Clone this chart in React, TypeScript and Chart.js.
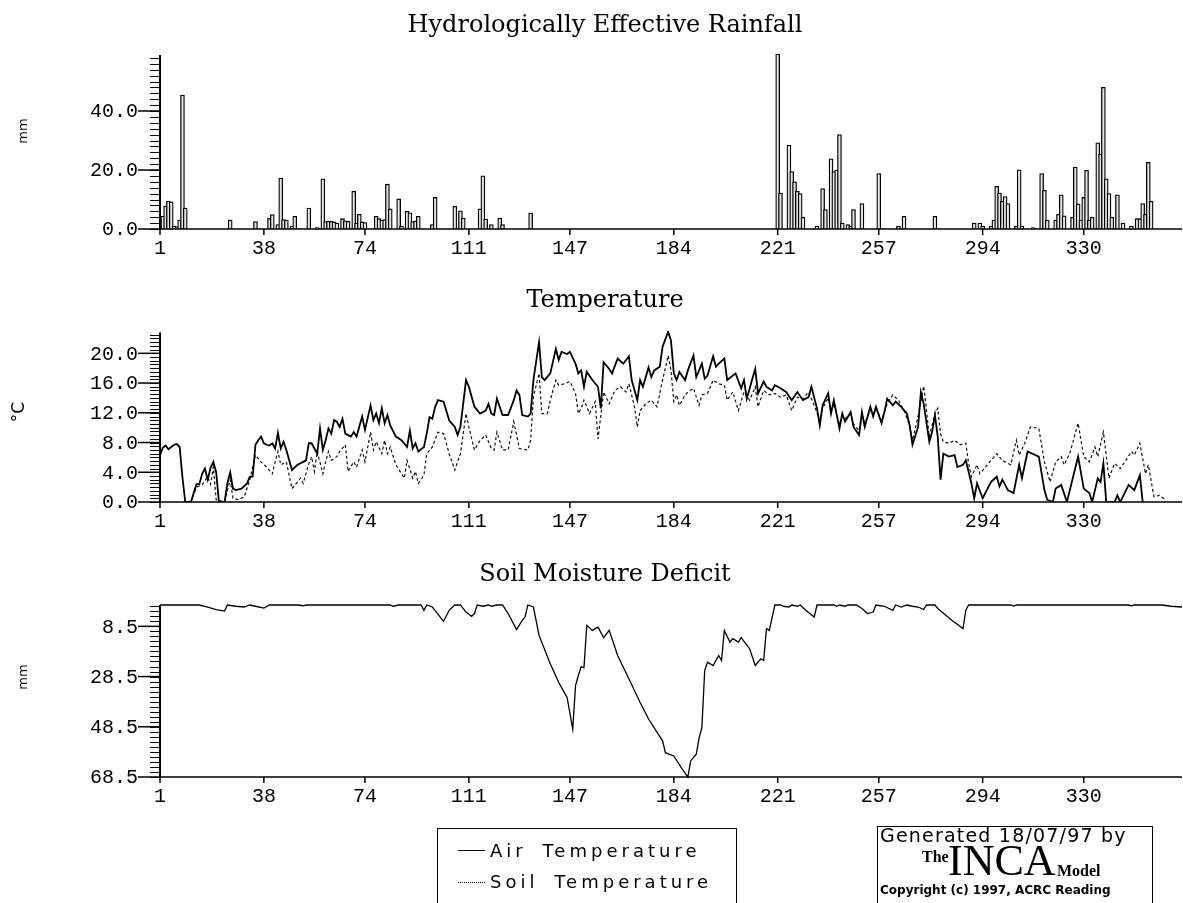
import React, { useEffect, useRef } from "react";
import { Chart, registerables } from "chart.js";

Chart.register(...registerables);

const PAGE_W = 1183;
const PAGE_H = 903;

// ---- tick labels ----
const xTickDays = [1, 38, 74, 111, 147, 184, 221, 257, 294, 330];
const rainTickValues = [0, 20, 40];
const tempTickValues = [0, 4, 8, 12, 16, 20];
const smdTickValues = [8.5, 28.5, 48.5, 68.5];

// ---- titles ----
const rainTitle = "Hydrologically Effective Rainfall";
const tempTitle = "Temperature";
const smdTitle = "Soil Moisture Deficit";

// ---- hydrologically effective rainfall [day, mm] ----
const rainfall: [number, number][] = [
  [2, 4.4], [3, 7.8], [4, 9.5], [5, 9.2], [6, 1.0], [7, 0.8], [8, 3.0], [9, 45.4], [10, 7.1],
  [26, 3.0], [35, 2.5], [40, 3.6], [41, 4.9], [43, 1.5], [44, 17.3], [45, 3.2], [46, 3.0],
  [48, 1.0], [49, 4.3], [54, 7.1], [57, 0.5], [59, 17.0], [60, 2.5], [61, 2.6], [62, 2.6],
  [63, 2.4], [64, 2.0], [66, 3.5], [67, 2.8], [68, 2.6], [70, 12.8], [71, 2.0], [72, 5.0],
  [73, 2.4], [74, 2.2], [78, 4.3], [79, 3.5], [80, 3.0], [81, 3.2], [82, 15.2], [83, 6.8],
  [86, 10.2], [87, 1.0], [89, 6.0], [90, 5.5], [91, 2.5], [92, 2.8], [93, 4.3], [98, 1.5],
  [99, 10.7], [106, 7.7], [108, 6.2], [109, 3.7], [115, 6.8], [116, 18.0], [117, 3.4],
  [119, 1.5], [122, 3.7], [123, 1.5], [133, 5.4],
  [221, 59.3], [222, 12.2], [225, 28.4], [226, 19.5], [227, 16.0], [228, 12.8], [229, 12.0],
  [230, 4.0], [235, 1.0], [237, 13.7], [238, 6.6], [240, 23.8], [241, 19.5], [242, 20.0],
  [243, 32.0], [244, 2.0], [246, 1.5], [247, 1.0], [248, 6.6], [251, 8.6], [257, 18.8],
  [264, 1.0], [266, 4.3], [277, 4.3], [291, 2.0], [293, 2.0], [294, 1.0], [297, 1.0],
  [298, 3.0], [299, 14.5], [300, 12.2], [301, 9.4], [302, 11.0], [303, 8.6], [306, 1.0],
  [307, 20.1], [308, 1.0], [312, 0.5], [315, 18.8], [316, 13.1], [317, 3.0], [320, 3.0],
  [321, 5.0], [322, 11.6], [323, 4.5], [326, 4.0], [327, 21.0], [328, 8.5], [329, 3.0],
  [330, 10.7], [331, 19.9], [332, 3.0], [333, 4.0], [335, 29.2], [336, 25.4], [337, 48.0],
  [338, 17.0], [339, 12.0], [340, 4.0], [342, 11.6], [344, 2.0], [347, 1.0], [349, 3.5],
  [350, 3.5], [351, 8.6], [352, 5.0], [353, 22.6], [354, 9.4],
];

// ---- air temperature [day, degC] ----
const airTemperature: [number, number][] = [
  [1, 6.3], [2, 7.3], [3, 7.6], [4, 7.1], [5, 7.4], [6, 7.7], [7, 7.8], [8, 7.4], [9, 3.3],
  [10, 0], [12, 0], [13, 1.2], [14, 2.4], [15, 2.4], [16, 3.8], [17, 4.5], [18, 3.0],
  [19, 4.6], [20, 5.4], [21, 4.0], [22, 0], [24, 0], [25, 2.5], [26, 4.0], [27, 1.8],
  [28, 1.6], [30, 1.8], [32, 2.5], [33, 3.4], [34, 3.4], [35, 7.7], [36, 8.3], [37, 8.8],
  [38, 7.9], [39, 7.7], [40, 7.6], [41, 7.9], [42, 7.2], [43, 9.3], [44, 7.2], [45, 8.1],
  [46, 7.0], [48, 4.3], [50, 5.0], [52, 5.4], [53, 5.6], [54, 7.9], [55, 7.9], [56, 7.2],
  [57, 6.5], [58, 9.9], [59, 7.0], [60, 8.3], [61, 9.9], [62, 9.2], [63, 11.0], [64, 10.8],
  [65, 10.1], [66, 11.2], [67, 9.2], [69, 8.8], [70, 9.4], [71, 8.8], [73, 11.5], [74, 9.7],
  [76, 13.0], [77, 11.0], [78, 11.9], [79, 10.6], [80, 12.6], [81, 10.6], [82, 11.7],
  [83, 10.3], [85, 8.8], [87, 8.3], [89, 7.4], [90, 9.6], [91, 7.2], [92, 7.9], [93, 6.8],
  [95, 7.4], [96, 9.2], [97, 11.4], [98, 11.2], [99, 12.8], [100, 13.7], [102, 13.5],
  [104, 11.0], [106, 10.1], [107, 9.0], [108, 10.1], [110, 16.4], [111, 15.5], [113, 12.8],
  [115, 11.9], [117, 12.3], [118, 13.2], [119, 11.9], [120, 11.7], [121, 13.9], [123, 11.7],
  [125, 11.7], [127, 13.7], [128, 15.0], [129, 14.4], [130, 11.7], [132, 11.5], [133, 11.9],
  [134, 16.4], [136, 21.5], [137, 16.8], [138, 16.4], [140, 17.3], [142, 20.6], [143, 19.1],
  [144, 20.2], [146, 19.9], [147, 20.2], [149, 18.6], [150, 17.3], [151, 17.7], [152, 15.5],
  [153, 17.5], [155, 16.4], [157, 15.5], [158, 12.6], [159, 18.8], [161, 17.9], [162, 17.3],
  [164, 19.3], [166, 18.6], [168, 19.6], [169, 16.4], [171, 13.7], [172, 16.4], [173, 15.5],
  [175, 18.1], [176, 16.8], [177, 17.7], [179, 18.2], [180, 20.9], [182, 22.9], [183, 21.7],
  [184, 17.3], [185, 16.4], [186, 17.5], [188, 16.4], [189, 17.7], [191, 19.7], [192, 16.8],
  [194, 18.6], [195, 16.6], [196, 17.0], [198, 19.6], [199, 18.2], [200, 18.6], [202, 19.3],
  [203, 16.4], [205, 17.0], [206, 17.3], [208, 15.3], [209, 16.4], [210, 13.9], [212, 16.6],
  [213, 17.9], [214, 14.6], [216, 16.2], [217, 15.5], [219, 15.0], [220, 15.7], [222, 15.3],
  [224, 14.8], [226, 13.7], [228, 14.8], [230, 13.7], [232, 14.1], [233, 15.5], [235, 12.6],
  [236, 10.3], [237, 13.0], [239, 14.6], [240, 11.9], [241, 13.7], [243, 9.9], [244, 11.9],
  [245, 10.8], [247, 12.1], [248, 10.1], [250, 9.0], [251, 12.1], [252, 10.1], [254, 12.8],
  [255, 11.5], [256, 12.8], [258, 10.6], [259, 12.1], [260, 13.9], [262, 13.0], [263, 13.5],
  [265, 12.8], [267, 11.9], [268, 10.3], [269, 7.7], [271, 10.1], [272, 14.8], [273, 13.2],
  [275, 8.1], [276, 9.4], [277, 11.7], [278, 8.8], [279, 3.0], [280, 6.5], [282, 6.1],
  [284, 6.3], [285, 4.7], [287, 5.0], [288, 5.6], [290, 2.5], [291, 0.5], [292, 2.5],
  [294, 0.5], [297, 2.7], [299, 3.4], [300, 2.1], [301, 3.0], [303, 1.6], [305, 1.2],
  [307, 5.0], [308, 3.2], [310, 6.8], [314, 6.1], [316, 1.6], [317, 0.3], [319, 0],
  [320, 1.8], [322, 2.3], [324, 0], [328, 6.1], [330, 1.8], [332, 1.2], [333, 0], [335, 3.2],
  [336, 2.7], [337, 5.2], [338, 0], [341, 0], [342, 0.9], [343, 0], [346, 2.3], [348, 1.6],
  [350, 3.6], [351, 0],
];

// ---- soil temperature [day, degC] ----
const soilTemperature: [number, number][] = [
  [12, 0], [14, 2.0], [16, 2.3], [18, 3.4], [19, 2.4], [20, 4.7], [21, 0.3], [24, 0],
  [26, 3.0], [27, 0.5], [29, 0.3], [31, 0.7], [33, 3.0], [35, 6.3], [37, 5.4], [38, 5.0],
  [39, 4.7], [41, 3.8], [42, 5.4], [43, 6.8], [44, 5.0], [46, 5.4], [47, 3.6], [48, 1.8],
  [50, 2.7], [51, 3.2], [52, 2.5], [54, 5.2], [55, 6.1], [56, 4.1], [57, 6.8], [59, 3.8],
  [60, 5.4], [61, 6.8], [62, 5.6], [64, 6.1], [65, 6.8], [67, 7.7], [68, 4.1], [70, 5.4],
  [71, 4.7], [73, 7.0], [74, 5.4], [76, 9.4], [77, 7.0], [78, 8.1], [80, 6.5], [81, 8.3],
  [82, 6.5], [83, 7.4], [85, 5.0], [87, 3.8], [88, 3.2], [89, 5.6], [91, 3.2], [92, 4.1],
  [93, 2.5], [95, 3.6], [96, 6.5], [98, 7.4], [100, 9.4], [102, 9.2], [104, 6.5], [106, 4.3],
  [108, 6.5], [110, 11.9], [111, 10.1], [113, 7.0], [115, 8.3], [117, 9.0], [119, 7.2],
  [120, 7.0], [121, 9.4], [123, 7.0], [125, 7.0], [127, 10.8], [129, 7.2], [132, 7.0],
  [133, 8.3], [134, 14.1], [136, 17.3], [137, 11.9], [139, 11.9], [140, 13.7], [142, 16.4],
  [143, 15.7], [145, 15.9], [147, 16.2], [149, 14.6], [150, 11.9], [151, 12.6], [152, 13.7],
  [154, 11.9], [156, 13.5], [157, 8.5], [159, 14.8], [161, 13.2], [163, 15.0], [165, 15.5],
  [167, 14.8], [168, 15.9], [170, 12.8], [171, 10.1], [172, 12.3], [174, 13.2], [176, 13.7],
  [178, 12.8], [180, 16.4], [182, 19.7], [183, 17.7], [184, 13.5], [185, 14.4], [186, 13.0],
  [188, 14.4], [189, 14.8], [191, 15.3], [193, 13.0], [194, 14.4], [196, 14.6], [198, 16.4],
  [200, 15.9], [202, 15.7], [203, 13.7], [205, 14.8], [207, 12.3], [209, 14.8], [211, 13.7],
  [213, 15.5], [214, 12.8], [216, 15.0], [218, 14.4], [220, 14.6], [222, 14.1], [224, 14.4],
  [226, 12.3], [228, 14.1], [230, 13.9], [232, 14.8], [234, 13.0], [236, 11.0], [237, 12.6],
  [239, 14.0], [240, 12.2], [241, 13.2], [243, 10.4], [244, 11.6], [245, 11.2], [247, 11.8],
  [248, 10.5], [250, 9.6], [251, 11.8], [252, 10.6], [254, 12.4], [255, 11.8], [256, 12.5],
  [258, 11.0], [260, 13.2], [262, 14.4], [264, 13.7], [266, 12.3], [268, 10.3], [269, 8.3],
  [271, 11.5], [273, 15.6], [274, 12.3], [275, 8.8], [277, 11.9], [278, 12.6], [279, 9.2],
  [280, 8.1], [282, 7.9], [284, 8.3], [286, 7.7], [288, 7.9], [289, 5.2], [290, 3.4],
  [292, 5.0], [293, 3.8], [295, 4.7], [297, 5.6], [299, 6.5], [301, 5.6], [302, 5.4],
  [304, 5.0], [306, 8.3], [307, 6.3], [309, 7.9], [311, 10.1], [314, 9.9], [316, 5.4],
  [318, 2.7], [320, 5.4], [322, 6.1], [323, 5.0], [325, 6.5], [328, 10.6], [330, 6.1],
  [332, 5.4], [334, 7.4], [335, 6.1], [337, 9.4], [339, 3.2], [341, 5.2], [343, 4.5],
  [345, 5.6], [347, 6.8], [348, 6.3], [350, 7.9], [352, 3.8], [353, 5.0], [355, 0.7],
  [357, 0.9], [359, 0.3],
];

// ---- soil moisture deficit [day, mm] ----
const soilMoistureDeficit: [number, number][] = [
  [1, 0], [15, 0], [18, 0.8], [21, 1.8], [24, 2.4], [25, 0], [28, 0.5], [31, 0.8], [33, 0],
  [35, 0.5], [38, 1.2], [40, 0], [50, 0], [52, 0.3], [53, 0], [83, 0], [84, 0.5], [86, 0],
  [94, 0], [95, 2.1], [96, 0], [98, 0.8], [102, 6.5], [104, 2.1], [106, 0], [108, 0],
  [110, 2.8], [112, 4.5], [113, 3.4], [114, 0], [116, 0.5], [118, 0], [119, 0.5], [121, 0],
  [123, 0], [125, 3.4], [128, 9.8], [130, 6.1], [131, 4.8], [132, 0], [134, 0.8], [136, 12.1],
  [140, 23.4], [143, 30.8], [146, 36.8], [148, 49.4], [149, 32.1], [150, 28.1], [151, 24.5],
  [152, 25.0], [153, 8.1], [155, 10.1], [156, 9.4], [157, 8.8], [159, 13.0], [161, 10.1],
  [164, 20.1], [168, 29.4], [172, 38.8], [175, 45.4], [180, 54.1], [181, 58.8], [184, 60.1],
  [187, 65.4], [189, 68.5], [190, 62.1], [192, 59.4], [193, 53.0], [194, 48.8], [195, 26.1],
  [196, 22.8], [198, 24.1], [200, 20.1], [201, 22.1], [202, 10.1], [204, 14.8], [205, 13.4],
  [207, 14.8], [208, 13.0], [211, 17.4], [213, 24.1], [215, 21.4], [216, 22.1], [217, 9.4],
  [218, 10.1], [220, 0], [222, 0], [223, 0.5], [225, 0.8], [226, 0], [228, 0.5], [229, 0],
  [231, 2.1], [234, 4.8], [235, 0], [241, 0], [242, 0.5], [243, 0], [245, 0.5], [246, 0],
  [249, 0], [251, 1.4], [253, 3.4], [255, 2.8], [256, 0], [259, 0.5], [262, 2.1], [263, 0],
  [265, 0.8], [267, 0], [269, 0.5], [271, 0.8], [273, 1.8], [274, 0], [277, 0], [278, 1.4],
  [283, 6.1], [287, 9.4], [288, 2.1], [289, 0], [304, 0], [305, 0.4], [306, 0], [346, 0],
  [347, 0.3], [348, 0], [358, 0], [361, 0.5], [365, 0.8],
];

// ---- custom axis painter (uses the chart's own scales) ----
const inkAxes = {
  id: "inkAxes",
  afterDraw(chart: any, _args: any, o: any) {
    const ctx = chart.ctx;
    const xs = chart.scales.x;
    const ys = chart.scales.y;
    const area = chart.chartArea;
    const ax = area.left;
    const base = area.bottom;
    ctx.save();
    ctx.strokeStyle = "#000";
    ctx.fillStyle = "#000";
    // y axis line
    ctx.lineWidth = 2;
    ctx.beginPath();
    ctx.moveTo(ax, ys.getPixelForValue(o.axisFrom));
    ctx.lineTo(ax, ys.getPixelForValue(o.axisTo));
    ctx.stroke();
    // x axis line
    ctx.lineWidth = 1.6;
    ctx.beginPath();
    ctx.moveTo(ax, base);
    ctx.lineTo(area.right, base);
    ctx.stroke();
    // minor ticks
    ctx.lineWidth = 1.2;
    ctx.beginPath();
    for (let i = 0; i < o.minorCount; i++) {
      const py = Math.round(ys.getPixelForValue(o.minorFrom + i * o.minorStep)) + 0.5;
      ctx.moveTo(ax - 10, py);
      ctx.lineTo(ax, py);
    }
    ctx.stroke();
    // major ticks + labels
    ctx.font = '20px "Liberation Mono"';
    ctx.textAlign = "right";
    ctx.textBaseline = "middle";
    ctx.lineWidth = 1.5;
    for (const v of o.majors) {
      const py = ys.getPixelForValue(v);
      ctx.beginPath();
      ctx.moveTo(ax - 22, py);
      ctx.lineTo(ax, py);
      ctx.stroke();
      ctx.fillText(Number(v).toFixed(1), ax - 22, py + 1);
    }
    // x ticks + labels
    ctx.textAlign = "center";
    for (const d of xTickDays) {
      const px = xs.getPixelForValue(d);
      ctx.beginPath();
      ctx.moveTo(px, base);
      ctx.lineTo(px, base + 6);
      ctx.stroke();
      ctx.fillText(String(d), px, base + 20);
    }
    // panel title
    ctx.font = '24px "DejaVu Serif"';
    ctx.textBaseline = "alphabetic";
    ctx.fillText(o.title, 605, o.titleBaseline);
    // y axis title
    ctx.translate(o.yTitleX, o.yTitleY);
    ctx.rotate(-Math.PI / 2);
    ctx.font = o.yTitleFont;
    ctx.textBaseline = "middle";
    ctx.fillText(o.yTitle, 0, 0);
    ctx.restore();
  },
};

const frame = (top: number, bottom: number) => ({
  animation: false as const,
  responsive: false,
  events: [] as any[],
  layout: { padding: { left: 160, right: PAGE_W - 1182, top, bottom: PAGE_H - bottom } },
});

const xScale = { type: "linear" as const, min: 1, max: 365, display: false, offset: false };

export default function App() {
  const rainRef = useRef<HTMLCanvasElement>(null);
  const tempRef = useRef<HTMLCanvasElement>(null);
  const smdRef = useRef<HTMLCanvasElement>(null);

  useEffect(() => {
    document.body.style.margin = "0";
    document.body.style.overflow = "hidden";
    const charts: Chart[] = [];

    charts.push(
      new Chart(rainRef.current as HTMLCanvasElement, {
        type: "bar",
        data: {
          datasets: [
            {
              data: rainfall.map(([d, v]) => ({ x: d, y: v })),
              backgroundColor: "#e4e4e4",
              borderColor: "#000000",
              borderWidth: 1.3,
              barThickness: 4,
              borderSkipped: "bottom",
              grouped: false,
            } as any,
          ],
        },
        options: {
          ...frame(52, 229),
          plugins: {
            legend: { display: false },
            tooltip: { enabled: false },
            inkAxes: {
              majors: rainTickValues, minorFrom: 0, minorStep: 2, minorCount: 30,
              axisFrom: 0, axisTo: 59, title: rainTitle, titleBaseline: 32,
              yTitle: "mm", yTitleX: 24, yTitleY: 131, yTitleFont: '13px "DejaVu Sans"',
            },
          } as any,
          scales: { x: xScale, y: { min: 0, max: 60, display: false } },
        },
        plugins: [inkAxes],
      })
    );

    charts.push(
      new Chart(tempRef.current as HTMLCanvasElement, {
        type: "line",
        data: {
          datasets: [
            {
              label: "Air Temperature",
              data: airTemperature.map(([d, v]) => ({ x: d, y: v })),
              borderColor: "#000000",
              borderWidth: 1.8,
              pointRadius: 0,
              tension: 0,
              fill: false,
            },
            {
              label: "Soil Temperature",
              data: soilTemperature.map(([d, v]) => ({ x: d, y: v })),
              borderColor: "#111111",
              borderWidth: 1.2,
              borderDash: [3, 2.5],
              pointRadius: 0,
              tension: 0,
              fill: false,
            },
          ],
        },
        options: {
          ...frame(331, 502),
          plugins: {
            legend: { display: false },
            tooltip: { enabled: false },
            inkAxes: {
              majors: tempTickValues, minorFrom: 0, minorStep: 0.5, minorCount: 46,
              axisFrom: 0, axisTo: 22.8, title: tempTitle, titleBaseline: 307,
              yTitle: "°C", yTitleX: 20, yTitleY: 412, yTitleFont: '17px "DejaVu Sans"',
            },
          } as any,
          scales: { x: xScale, y: { min: 0, max: 23, display: false } },
        },
        plugins: [inkAxes],
      })
    );

    charts.push(
      new Chart(smdRef.current as HTMLCanvasElement, {
        type: "line",
        data: {
          datasets: [
            {
              label: "Soil Moisture Deficit",
              data: soilMoistureDeficit.map(([d, v]) => ({ x: d, y: v })),
              borderColor: "#000000",
              borderWidth: 1.3,
              pointRadius: 0,
              tension: 0,
              fill: false,
              clip: false,
            } as any,
          ],
        },
        options: {
          ...frame(605, 777),
          plugins: {
            legend: { display: false },
            tooltip: { enabled: false },
            inkAxes: {
              majors: smdTickValues, minorFrom: 0.5, minorStep: 2, minorCount: 35,
              axisFrom: 0, axisTo: 68.5, title: smdTitle, titleBaseline: 581,
              yTitle: "mm", yTitleX: 24, yTitleY: 677, yTitleFont: '13px "DejaVu Sans"',
            },
          } as any,
          scales: { x: xScale, y: { min: 0, max: 68.5, reverse: true, display: false } },
        },
        plugins: [inkAxes],
      })
    );

    return () => charts.forEach((c) => c.destroy());
  }, []);

  const canvasStyle: React.CSSProperties = { position: "absolute", left: 0, top: 0 };
  const txt = (extra: React.CSSProperties): React.CSSProperties => ({
    position: "absolute",
    whiteSpace: "nowrap",
    color: "#000",
    ...extra,
  });

  return (
    <div
      style={{
        position: "absolute",
        left: 0,
        top: 0,
        width: PAGE_W,
        height: PAGE_H,
        overflow: "hidden",
        background: "#fff",
      }}
    >
      <canvas ref={rainRef} width={PAGE_W} height={PAGE_H} style={canvasStyle} />
      <canvas ref={tempRef} width={PAGE_W} height={PAGE_H} style={canvasStyle} />
      <canvas ref={smdRef} width={PAGE_W} height={PAGE_H} style={canvasStyle} />

      {/* legend box */}
      <div
        style={{
          position: "absolute",
          left: 437,
          top: 828,
          width: 300,
          height: 120,
          border: "1.5px solid #000",
          boxSizing: "border-box",
        }}
      />
      <div style={{ position: "absolute", left: 458, top: 850, width: 27, borderTop: "1.5px solid #000" }} />
      <div
        style={txt({
          left: 490, top: 842, font: '18px "DejaVu Sans"', lineHeight: "18px", letterSpacing: "4px",
          wordSpacing: "6px",
        })}
      >
        Air Temperature
      </div>
      <div style={{ position: "absolute", left: 458, top: 882, width: 27, borderTop: "1.5px dotted #000" }} />
      <div
        style={txt({
          left: 490, top: 873, font: '18px "DejaVu Sans"', lineHeight: "18px", letterSpacing: "4px",
          wordSpacing: "6px",
        })}
      >
        Soil Temperature
      </div>

      {/* generated-by box */}
      <div
        style={{
          position: "absolute",
          left: 877,
          top: 826,
          width: 276,
          height: 120,
          border: "1.5px solid #000",
          boxSizing: "border-box",
        }}
      />
      <div style={txt({ left: 880, top: 826, font: '19px "DejaVu Sans"', lineHeight: "19px", letterSpacing: "1.2px" })}>
        Generated 18/07/97 by
      </div>
      <div style={txt({ left: 922, top: 849, font: 'bold 16px "Liberation Serif"', lineHeight: "16px" })}>The</div>
      <div style={txt({ left: 948, top: 839, font: '44px "Liberation Serif"', lineHeight: "44px" })}>INCA</div>
      <div style={txt({ left: 1057, top: 863, font: 'bold 16px "Liberation Serif"', lineHeight: "16px" })}>Model</div>
      <div style={txt({ left: 880, top: 884, font: 'bold 12px "DejaVu Sans"', lineHeight: "12px" })}>
        Copyright (c) 1997, ACRC Reading
      </div>
    </div>
  );
}
